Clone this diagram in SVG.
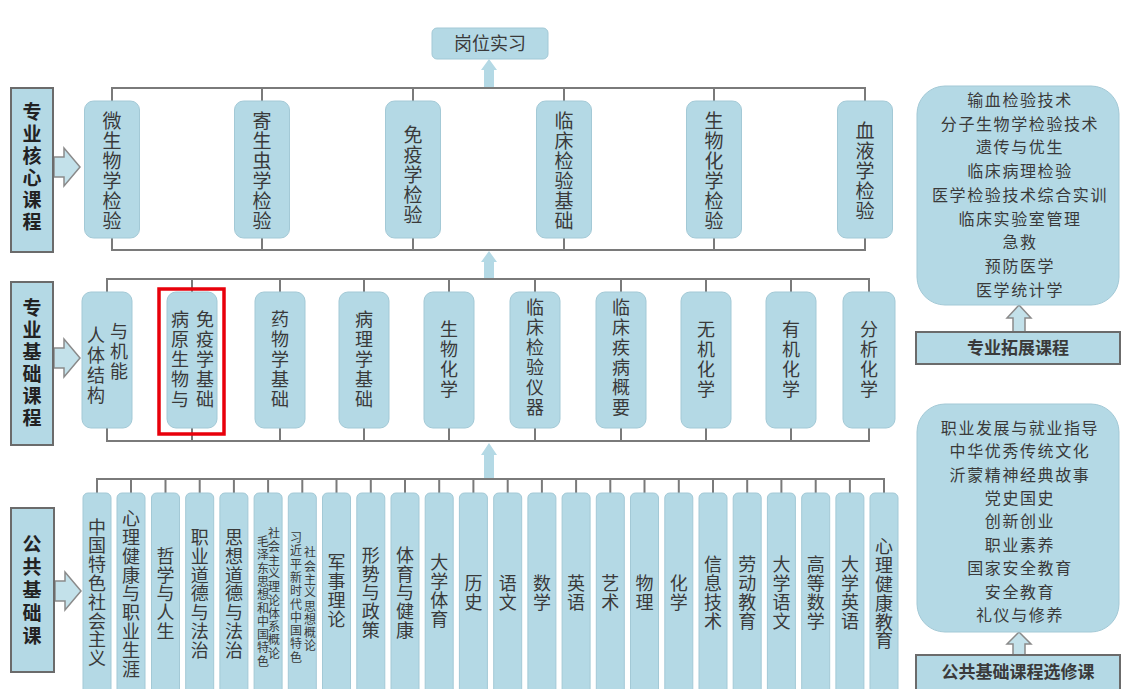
<svg xmlns="http://www.w3.org/2000/svg" width="1121" height="689" viewBox="0 0 1121 689">
<style>
text{font-family:"Noto Sans CJK SC","Noto Sans",sans-serif;fill:#3a3a3a;}
.v{writing-mode:vertical-rl;text-anchor:middle;}
.box{fill:#b4d9e5;stroke:#a3c9d6;stroke-width:1;}
.lbl{fill:#b4d9e5;stroke:#6b6b6b;stroke-width:2;}
.lt{font-size:19px;font-weight:bold;fill:#222;letter-spacing:3px;}
.core{font-size:19px;letter-spacing:1px;}
.basic{font-size:18px;letter-spacing:2px;}
.pub{font-size:18px;letter-spacing:0.8px;}
.tiny{font-size:12px;letter-spacing:1.3px;}
.rt{font-size:16px;letter-spacing:1.6px;text-anchor:middle;}
.ln{fill:none;stroke:#7a7a7a;stroke-width:2;}
.uar{fill:#b4d9e5;stroke:none;}
.oar{fill:#c3e1ea;stroke:#8a8a8a;stroke-width:1.5;}
</style>

<g id="connectors">
  <path class="ln" d="M112 101V88H865V101M262 88V101M413 88V101M564 88V101M714 88V101"/>
  <path class="ln" d="M112 238V250H865V238M262 250V238M413 250V238M564 250V238M714 250V238"/>
  <path class="ln" d="M107 292V279H869V292M192 279V292M280 279V292M364 279V292M449 279V292M535 279V292M621 279V292M706 279V292M791 279V292"/>
  <path class="ln" d="M107 428V441H869V428M192 441V428M280 441V428M364 441V428M449 441V428M535 441V428M621 441V428M706 441V428M791 441V428"/>
  <path class="ln" d="M97 493V479H884V493M131 479V493M165.5 479V493M199.7 479V493M233.9 479V493M268.1 479V493M302.3 479V493M336.5 479V493M370.8 479V493M405 479V493M439.2 479V493M473.4 479V493M507.7 479V493M541.9 479V493M576.1 479V493M610.3 479V493M644.5 479V493M678.8 479V493M713 479V493M747.2 479V493M781.4 479V493M815.7 479V493M849.9 479V493"/>
  <polygon class="uar" points="489,59 497,70 494,70 494,87 484,87 484,70 481,70"/>
  <polygon class="uar" points="489,251 497,262 494,262 494,278 484,278 484,262 481,262"/>
  <polygon class="uar" points="489,443 497,455 494,455 494,478 484,478 484,455 481,455"/>
  <polygon class="oar" points="54,157 64,157 64,148 80,167 64,186 64,177 54,177"/>
  <polygon class="oar" points="54,348 64,348 64,339 80,358 64,377 64,368 54,368"/>
  <polygon class="oar" points="55,581 65,581 65,572 81,591 65,610 65,601 55,601"/>
  <polygon class="oar" points="1019,305 1031,318 1025,318 1025,332 1013,332 1013,318 1007,318"/>
  <polygon class="oar" points="1019,632 1031,644 1025,644 1025,655 1013,655 1013,644 1007,644"/>
</g>

<g id="top">
  <rect class="box" x="432" y="28" width="116" height="31" rx="5"/>
  <text x="490" y="50" font-size="18" text-anchor="middle">岗位实习</text>
</g>

<g id="label-core">
  <rect class="lbl" x="11" y="88" width="42" height="164"/>
  <text class="v lt" x="32" y="168">专业核心课程</text>
</g>
<g id="label-basic">
  <rect class="lbl" x="11" y="282" width="42" height="163"/>
  <text class="v lt" x="32" y="364">专业基础课程</text>
</g>
<g id="label-public">
  <rect class="lbl" x="11" y="508" width="43" height="164"/>
  <text class="v lt" x="32" y="592" style="letter-spacing:4px">公共基础课</text>
</g>

<g id="core-courses">
  <g id="c1"><rect class="box" x="84.5" y="101" width="55" height="137" rx="9"/><text class="v core" x="112" y="171">微生物学检验</text></g>
  <g id="c2"><rect class="box" x="234.5" y="101" width="55" height="137" rx="9"/><text class="v core" x="262" y="171">寄生虫学检验</text></g>
  <g id="c3"><rect class="box" x="385.5" y="101" width="55" height="137" rx="9"/><text class="v core" x="413" y="175">免疫学检验</text></g>
  <g id="c4"><rect class="box" x="536.5" y="101" width="55" height="137" rx="9"/><text class="v core" x="564" y="171">临床检验基础</text></g>
  <g id="c5"><rect class="box" x="686.5" y="101" width="55" height="137" rx="9"/><text class="v core" x="714" y="171">生物化学检验</text></g>
  <g id="c6"><rect class="box" x="837.5" y="101" width="55" height="137" rx="9"/><text class="v core" x="865" y="171">血液学检验</text></g>
</g>

<g id="basic-courses">
  <g id="b1"><rect class="box" x="82" y="292" width="50" height="136" rx="9"/><text class="v basic" x="96" y="366">人体结构</text><text class="v basic" x="119" y="352">与机能</text></g>
  <g id="b2"><rect class="box" x="167" y="292" width="50" height="136" rx="9"/><text class="v basic" x="180" y="360">病原生物与</text><text class="v basic" x="205" y="360">免疫学基础</text>
    <rect x="159" y="289" width="65" height="145" fill="none" stroke="#e8000b" stroke-width="3.5"/></g>
  <g id="b3"><rect class="box" x="255" y="292" width="50" height="136" rx="9"/><text class="v basic" x="280" y="360">药物学基础</text></g>
  <g id="b4"><rect class="box" x="339" y="292" width="50" height="136" rx="9"/><text class="v basic" x="364" y="360">病理学基础</text></g>
  <g id="b5"><rect class="box" x="424" y="292" width="50" height="136" rx="9"/><text class="v basic" x="449" y="360">生物化学</text></g>
  <g id="b6"><rect class="box" x="510" y="292" width="50" height="136" rx="9"/><text class="v basic" x="535" y="358">临床检验仪器</text></g>
  <g id="b7"><rect class="box" x="596" y="292" width="50" height="136" rx="9"/><text class="v basic" x="621" y="358">临床疾病概要</text></g>
  <g id="b8"><rect class="box" x="681" y="292" width="50" height="136" rx="9"/><text class="v basic" x="706" y="360">无机化学</text></g>
  <g id="b9"><rect class="box" x="766" y="292" width="50" height="136" rx="9"/><text class="v basic" x="791" y="360">有机化学</text></g>
  <g id="b10"><rect class="box" x="843" y="292" width="52" height="136" rx="9"/><text class="v basic" x="869" y="360">分析化学</text></g>
</g>

<g id="public-courses">
  <g id="p1"><rect class="box" x="83" y="493" width="28" height="210" rx="5"/><text class="v pub" x="97" y="593">中国特色社会主义</text></g>
  <g id="p2"><rect class="box" x="117" y="493" width="28" height="210" rx="5"/><text class="v pub" x="131" y="594">心理健康与职业生涯</text></g>
  <g id="p3"><rect class="box" x="151.5" y="493" width="28" height="210" rx="5"/><text class="v pub" x="165.5" y="594">哲学与人生</text></g>
  <g id="p4"><rect class="box" x="185.7" y="493" width="28" height="210" rx="5"/><text class="v pub" x="199.7" y="594">职业道德与法治</text></g>
  <g id="p5"><rect class="box" x="219.9" y="493" width="28" height="210" rx="5"/><text class="v pub" x="233.9" y="594">思想道德与法治</text></g>
  <g id="p6"><rect class="box" x="254.1" y="493" width="28" height="210" rx="5"/><text class="v tiny" x="274" y="594">社会主义理论体系概论</text><text class="v tiny" x="263" y="602">毛泽东思想和中国特色</text></g>
  <g id="p7"><rect class="box" x="288.3" y="493" width="28" height="210" rx="5"/><text class="v tiny" x="310" y="600">社会主义思想概论</text><text class="v tiny" x="296" y="598">习近平新时代中国特色</text></g>
  <g id="p8"><rect class="box" x="322.5" y="493" width="28" height="210" rx="5"/><text class="v pub" x="336.5" y="591">军事理论</text></g>
  <g id="p9"><rect class="box" x="356.8" y="493" width="28" height="210" rx="5"/><text class="v pub" x="370.8" y="593">形势与政策</text></g>
  <g id="p10"><rect class="box" x="391" y="493" width="28" height="210" rx="5"/><text class="v pub" x="405" y="593">体育与健康</text></g>
  <g id="p11"><rect class="box" x="425.2" y="493" width="28" height="210" rx="5"/><text class="v pub" x="439.2" y="591">大学体育</text></g>
  <g id="p12"><rect class="box" x="459.4" y="493" width="28" height="210" rx="5"/><text class="v pub" x="473.4" y="593">历史</text></g>
  <g id="p13"><rect class="box" x="493.7" y="493" width="28" height="210" rx="5"/><text class="v pub" x="507.7" y="593">语文</text></g>
  <g id="p14"><rect class="box" x="527.9" y="493" width="28" height="210" rx="5"/><text class="v pub" x="541.9" y="593">数学</text></g>
  <g id="p15"><rect class="box" x="562.1" y="493" width="28" height="210" rx="5"/><text class="v pub" x="576.1" y="593">英语</text></g>
  <g id="p16"><rect class="box" x="596.3" y="493" width="28" height="210" rx="5"/><text class="v pub" x="610.3" y="593">艺术</text></g>
  <g id="p17"><rect class="box" x="630.5" y="493" width="28" height="210" rx="5"/><text class="v pub" x="644.5" y="593">物理</text></g>
  <g id="p18"><rect class="box" x="664.8" y="493" width="28" height="210" rx="5"/><text class="v pub" x="678.8" y="593">化学</text></g>
  <g id="p19"><rect class="box" x="699" y="493" width="28" height="210" rx="5"/><text class="v pub" x="713" y="593">信息技术</text></g>
  <g id="p20"><rect class="box" x="733.2" y="493" width="28" height="210" rx="5"/><text class="v pub" x="747.2" y="593">劳动教育</text></g>
  <g id="p21"><rect class="box" x="767.4" y="493" width="28" height="210" rx="5"/><text class="v pub" x="781.4" y="593">大学语文</text></g>
  <g id="p22"><rect class="box" x="801.7" y="493" width="28" height="210" rx="5"/><text class="v pub" x="815.7" y="593">高等数学</text></g>
  <g id="p23"><rect class="box" x="835.9" y="493" width="28" height="210" rx="5"/><text class="v pub" x="849.9" y="593">大学英语</text></g>
  <g id="p24"><rect class="box" x="870" y="493" width="28" height="210" rx="5"/><text class="v pub" x="884" y="594">心理健康教育</text></g>
</g>

<g id="ext-list">
  <rect class="box" x="917" y="86" width="202" height="219" rx="28"/>
  <text class="rt" x="1020" y="106">输血检验技术</text>
  <text class="rt" x="1020" y="130">分子生物学检验技术</text>
  <text class="rt" x="1020" y="153">遗传与优生</text>
  <text class="rt" x="1020" y="177">临床病理检验</text>
  <text class="rt" x="1020" y="201">医学检验技术综合实训</text>
  <text class="rt" x="1020" y="225">临床实验室管理</text>
  <text class="rt" x="1020" y="248">急救</text>
  <text class="rt" x="1020" y="272">预防医学</text>
  <text class="rt" x="1020" y="296">医学统计学</text>
</g>
<g id="ext-label">
  <rect class="lbl" x="916" y="332" width="204" height="32"/>
  <text x="1018" y="354" font-size="17" font-weight="bold" text-anchor="middle" fill="#222">专业拓展课程</text>
</g>

<g id="elective-list">
  <rect class="box" x="917" y="404" width="202" height="228" rx="28"/>
  <text class="rt" x="1020" y="434">职业发展与就业指导</text>
  <text class="rt" x="1020" y="457">中华优秀传统文化</text>
  <text class="rt" x="1020" y="481">沂蒙精神经典故事</text>
  <text class="rt" x="1020" y="504">党史国史</text>
  <text class="rt" x="1020" y="527">创新创业</text>
  <text class="rt" x="1020" y="551">职业素养</text>
  <text class="rt" x="1020" y="574">国家安全教育</text>
  <text class="rt" x="1020" y="598">安全教育</text>
  <text class="rt" x="1020" y="621">礼仪与修养</text>
</g>
<g id="elective-label">
  <rect class="lbl" x="916" y="655" width="204" height="40"/>
  <text x="1018" y="678" font-size="17" font-weight="bold" text-anchor="middle" fill="#222">公共基础课程选修课</text>
</g>
</svg>
